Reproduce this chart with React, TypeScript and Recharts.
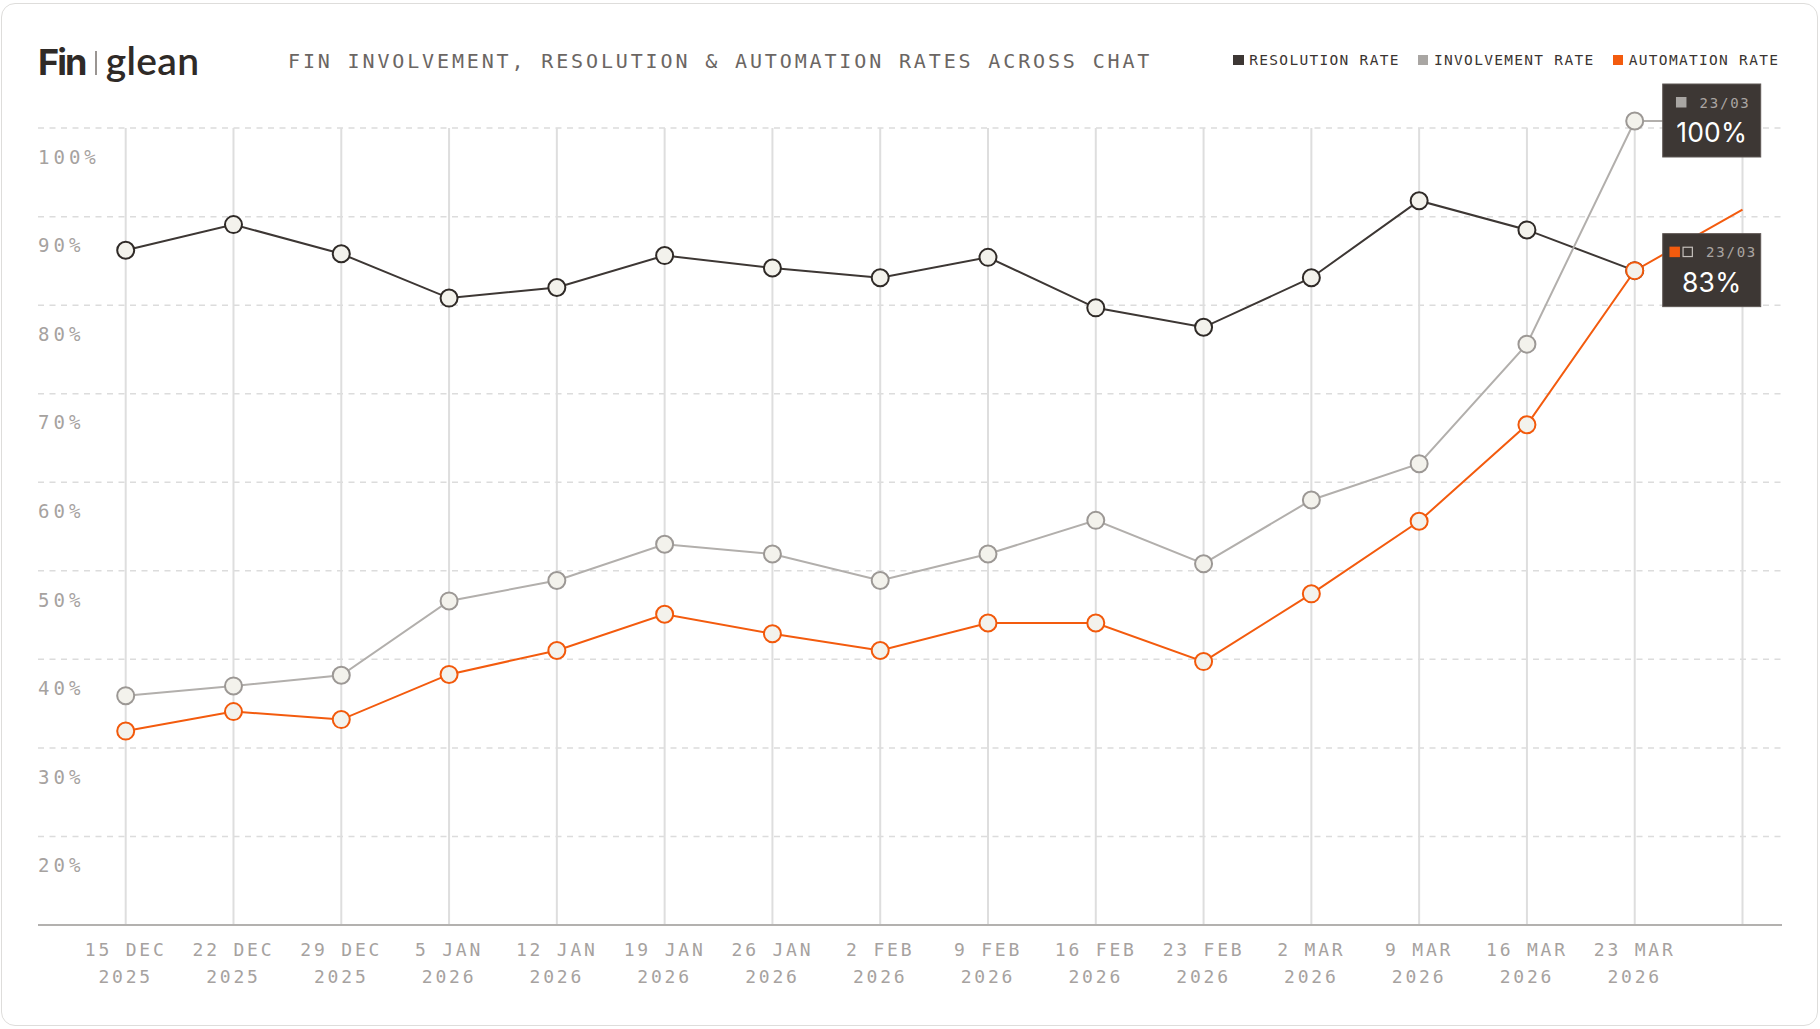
import React from "react"
import {
  LineChart,
  Line,
  XAxis,
  YAxis,
  ReferenceLine,
  LabelList,
} from "recharts"

const weeks = [
  "2025-12-15", "2025-12-22", "2025-12-29", "2026-01-05", "2026-01-12", "2026-01-19",
  "2026-01-26", "2026-02-02", "2026-02-09", "2026-02-16", "2026-02-23", "2026-03-02",
  "2026-03-09", "2026-03-16", "2026-03-23", "2026-03-30",
]
const tickDay = [
  "15 DEC", "22 DEC", "29 DEC", "5 JAN", "12 JAN", "19 JAN", "26 JAN", "2 FEB",
  "9 FEB", "16 FEB", "23 FEB", "2 MAR", "9 MAR", "16 MAR", "23 MAR", "",
]
const tickYear = [
  "2025", "2025", "2025", "2026", "2026", "2026", "2026", "2026",
  "2026", "2026", "2026", "2026", "2026", "2026", "2026", "",
]
const resolutionRate = [86.2, 89.1, 85.8, 80.8, 82.0, 85.6, 84.2, 83.1, 85.4, 79.7, 77.5, 83.1, 91.8, 88.5, 83.9, null]
const involvementRate = [35.9, 37.0, 38.2, 46.6, 48.9, 53.0, 51.9, 48.9, 51.9, 55.7, 50.8, 58.0, 62.1, 75.6, 100.8, 100.8]
const automationRate = [31.9, 34.1, 33.2, 38.3, 41.0, 45.1, 42.9, 41.0, 44.1, 44.1, 39.75, 47.4, 55.6, 66.5, 83.9, 90.8]
const yTicks = [20, 30, 40, 50, 60, 70, 80, 90, 100]
const yFloor = 10
const calloutWeek = "2026-03-23"

const series = [
  { key: "resolution", name: "RESOLUTION RATE", color: "#3d3734", dotStroke: "#2f2a27" },
  { key: "involvement", name: "INVOLVEMENT RATE", color: "#b2afac", dotStroke: "#9c9895" },
  { key: "automation", name: "AUTOMATION RATE", color: "#f35b0e", dotStroke: "#f2590b" },
]

const data = weeks.map((w, i) => ({
  week: w,
  resolution: resolutionRate[i],
  involvement: involvementRate[i],
  automation: automationRate[i],
}))

const W = 1820
const H = 1029
const MONO = "'DejaVu Sans Mono', monospace"
const PLOT_LEFT = 38
const lastIdx = weeks.length - 1
const calloutIdx = weeks.indexOf(calloutWeek)
const yTop = Math.max(...involvementRate, ...automationRate, ...(resolutionRate.filter((v) => v != null) as number[]))

const colorOf = (k: string) => series.find((s) => s.key === k)!

function renderDot(key: string) {
  const s = colorOf(key)
  return (p: any) => {
    if (p.index === lastIdx || p.value == null || p.cx == null) return <g key={`d-${key}-${p.index}`} />
    return (
      <circle
        key={`d-${key}-${p.index}`}
        cx={p.cx}
        cy={p.cy}
        r={8.5}
        fill="#f3f2ec"
        stroke={s.dotStroke}
        strokeWidth={2}
      />
    )
  }
}

function renderCallout(keys: string[]) {
  return (p: any) => {
    if (p.index !== calloutIdx) return null
    const bx = p.x + 28
    const by = p.y - 37
    const bw = 98
    const bh = 73
    const sq = 10.5
    const sqGap = 2.5
    const block = keys.length * sq + (keys.length - 1) * sqGap
    const txtW = 48
    const gap = 13
    const start = bx + (bw - (block + gap + txtW)) / 2
    const [, mm, dd] = calloutWeek.split("-")
    return (
      <g>
        <rect x={bx} y={by} width={bw} height={bh} fill="#3d3734" stroke="#5f5854" strokeWidth={1} />
        {keys.map((k, i) => {
          const sx = start + i * (sq + sqGap)
          return k === "resolution" ? (
            <rect key={k} x={sx + 0.6} y={by + 13.6} width={sq - 1.2} height={sq - 1.2} fill="none" stroke="#c4bfbb" strokeWidth={1.2} />
          ) : (
            <rect key={k} x={sx} y={by + 13} width={sq} height={sq} fill={k === "involvement" ? "#a9a6a3" : colorOf(k).color} />
          )
        })}
        <text
          x={start + block + gap}
          y={by + 18.7}
          dominantBaseline="central"
          fontFamily={MONO}
          fontSize={14}
          letterSpacing={1.8}
          fill="#aaa5a2"
        >
          {`${dd}/${mm}`}
        </text>
        <text
          x={bx + bw / 2}
          y={by + 48}
          textAnchor="middle"
          dominantBaseline="central"
          fontFamily="Inter, sans-serif"
          fontSize={26.5}
          letterSpacing={0.2}
          fill="#ffffff"
        >
          {`${Math.floor(p.value)}%`}
        </text>
      </g>
    )
  }
}

const yLabel = (v: number) => (p: any) => {
  const vb = p.viewBox || {}
  return (
    <text
      x={PLOT_LEFT}
      y={vb.y + 28.7}
      textAnchor="start"
      dominantBaseline="central"
      fontFamily={MONO}
      fontSize={19}
      letterSpacing={4}
      fill="#a6a29f"
    >
      {`${v}%`}
    </text>
  )
}

const XTick = (p: any) => {
  const i = p.payload.index
  return (
    <g>
      <text x={p.x} y={p.y + 24} textAnchor="middle" dominantBaseline="central" fontFamily={MONO} fontSize={18} letterSpacing={2.8} fill="#a6a29f">
        {tickDay[i]}
      </text>
      <text x={p.x} y={p.y + 51} textAnchor="middle" dominantBaseline="central" fontFamily={MONO} fontSize={18} letterSpacing={2.8} fill="#a6a29f">
        {tickYear[i]}
      </text>
    </g>
  )
}

export default function App() {
  return (
    <div style={{ position: "absolute", left: 0, top: 0, width: W, height: H, background: "#fff" }}>
      <div
        style={{
          position: "absolute",
          left: 1,
          top: 3,
          width: 1815,
          height: 1021,
          border: "1.5px solid #dedddb",
          borderRadius: 14,
          background: "#fff",
        }}
      />
      {/* logo */}
      <div style={{ position: "absolute", left: 38, top: 38, height: 44, display: "flex", alignItems: "baseline", color: "#2f2a27" }}>
        <span style={{ fontFamily: "Inter, sans-serif", fontWeight: 700, fontSize: 36, letterSpacing: -2, lineHeight: "44px" }}>Fin</span>
        <span style={{ display: "inline-block", width: 1.5, height: 24, background: "#9a9592", margin: "0 9px 0 10px" }} />
        <span style={{ fontFamily: "Lato, sans-serif", fontWeight: 600, fontSize: 39, letterSpacing: 0.3, lineHeight: "44px" }}>glean</span>
      </div>
      {/* title */}
      <div
        style={{
          position: "absolute",
          left: 288,
          top: 48,
          lineHeight: "26px",
          fontFamily: MONO,
          fontSize: 20,
          letterSpacing: 2.86,
          color: "#6b6663",
          whiteSpace: "nowrap",
        }}
      >
        FIN INVOLVEMENT, RESOLUTION &amp; AUTOMATION RATES ACROSS CHAT
      </div>
      {/* legend */}
      <div style={{ position: "absolute", left: 1233, top: 50, height: 20, display: "flex", alignItems: "center", whiteSpace: "nowrap" }}>
        {series.map((s) => (
          <div key={s.key} style={{ display: "flex", alignItems: "center", marginRight: 18 }}>
            <span style={{ display: "inline-block", width: 10.7, height: 10, background: s.key === "involvement" ? "#a9a6a3" : s.color, marginRight: 5.6 }} />
            <span style={{ fontFamily: MONO, fontSize: 14.5, letterSpacing: 1.3, color: "#3a3431", lineHeight: "20px" }}>{s.name}</span>
          </div>
        ))}
      </div>
      <div style={{ position: "absolute", left: 0, top: 0 }}>
        <LineChart width={W} height={H} data={data} margin={{ top: 121, right: 38, bottom: 44, left: PLOT_LEFT }}>
          <XAxis
            dataKey="week"
            type="category"
            interval={0}
            height={60}
            padding={{ left: 87.7, right: 39.5 }}
            tickLine={false}
            tickSize={0}
            tickMargin={0}
            axisLine={{ stroke: "#b3b1af", strokeWidth: 2 }}
            tick={<XTick />}
          />
          <YAxis type="number" domain={[yFloor, yTop]} ticks={yTicks} width={0} hide />
          {yTicks.map((v) => (
            <ReferenceLine
              key={`h-${v}`}
              y={v}
              stroke="#dcdcdc"
              strokeWidth={1.5}
              strokeDasharray="6 5.5"
              label={yLabel(v)}
            />
          ))}
          {weeks.map((w) => (
            <ReferenceLine
              key={w}
              segment={[{ x: w, y: yFloor }, { x: w, y: 100 }]}
              stroke="#dedede"
              strokeWidth={2}
            />
          ))}
          <Line
            dataKey="resolution"
            type="linear"
            stroke={colorOf("resolution").color}
            strokeWidth={2}
            dot={renderDot("resolution")}
            activeDot={false}
            isAnimationActive={false}
          />
          <Line
            dataKey="involvement"
            type="linear"
            stroke={colorOf("involvement").color}
            strokeWidth={2}
            dot={renderDot("involvement")}
            activeDot={false}
            isAnimationActive={false}
          >
            <LabelList dataKey="involvement" content={renderCallout(["involvement"])} />
          </Line>
          <Line
            dataKey="automation"
            type="linear"
            stroke={colorOf("automation").color}
            strokeWidth={2}
            dot={renderDot("automation")}
            activeDot={false}
            isAnimationActive={false}
          >
            <LabelList dataKey="automation" content={renderCallout(["automation", "resolution"])} />
          </Line>
        </LineChart>
      </div>
    </div>
  )
}
